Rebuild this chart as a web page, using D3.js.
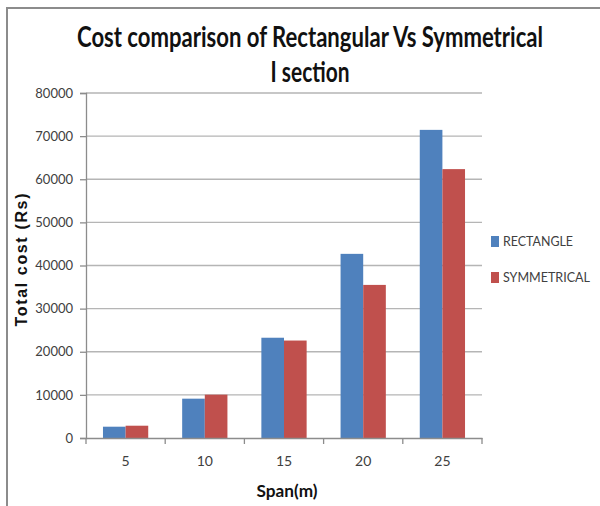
<!DOCTYPE html>
<html><head><meta charset="utf-8">
<script src="https://cdn.jsdelivr.net/npm/d3@7"></script>
<style>html,body{margin:0;padding:0;background:#fff;}svg{display:block;}</style>
</head><body>
<svg id="chart" width="600" height="506"></svg>
<script>
const categories = ["5", "10", "15", "20", "25"];
const seriesNames = ["RECTANGLE", "SYMMETRICAL"];
const rectangle = [2620, 9120, 23250, 42700, 71450];
const symmetrical = [2850, 10050, 22600, 35500, 62350];
const yTicks = [0, 10000, 20000, 30000, 40000, 50000, 60000, 70000, 80000];
const colors = ["#4F81BD", "#C0504D"];
const titleLines = ["Cost comparison of Rectangular Vs Symmetrical", "I section"];
const xTitle = "Span(m)";
const yTitle = "Total cost (Rs)";

const svg = d3.select("#chart");
const margin = {left: 86, right: 482, top: 93, bottom: 438};

// frame
svg.append("path").attr("d", "M7,506 L7,8 L600,8").attr("fill", "none")
  .attr("stroke", "#8c8c8c").attr("stroke-width", 2);

const x = d3.scaleBand().domain(categories).range([margin.left, margin.right]);
const sub = d3.scaleBand().domain(seriesNames).range([0, x.bandwidth()]).paddingInner(0).paddingOuter(0.75);
const y = d3.scaleLinear().domain([0, 80000]).range([margin.bottom, margin.top]);

// gridlines
svg.append("g").selectAll("line").data(yTicks.filter(d => d > 0)).join("line")
  .attr("x1", margin.left).attr("x2", margin.right)
  .attr("y1", d => y(d)).attr("y2", d => y(d))
  .attr("stroke", "#b5b5b5").attr("stroke-width", 1.3);

// bars
const series = [rectangle, symmetrical];
series.forEach((vals, si) => {
  svg.append("g").selectAll("rect").data(vals).join("rect")
    .attr("x", (d, i) => x(categories[i]) + sub(seriesNames[si]))
    .attr("width", sub.bandwidth())
    .attr("y", d => y(d))
    .attr("height", d => y(0) - y(d))
    .attr("fill", colors[si]);
});

// y axis
const yAxis = d3.axisLeft(y).tickValues(yTicks).tickSize(6).tickPadding(7).tickFormat(d3.format("d"));
const gy = svg.append("g").attr("transform", `translate(${margin.left},0)`).call(yAxis);
gy.select(".domain").attr("stroke", "#8c8c8c").attr("stroke-width", 1.3);
gy.selectAll(".tick line").attr("stroke", "#8c8c8c").attr("stroke-width", 1.3);
gy.selectAll(".tick text").attr("fill", "#404040").style("font-family", "Lato, 'Open Sans', sans-serif").style("font-size", "13px");

// x axis
const xAxis = d3.axisBottom(x).tickSize(0).tickPadding(18);
const gx = svg.append("g").attr("transform", `translate(0,${margin.bottom})`).call(xAxis);
gx.select(".domain").attr("stroke", "#8c8c8c").attr("stroke-width", 1.3);
gx.selectAll(".tick text").attr("fill", "#404040").style("font-family", "Lato, 'Open Sans', sans-serif").style("font-size", "14px");
// category boundary ticks
const bounds = categories.map(c => x(c)).concat([margin.right]);
gx.append("g").selectAll("line").data(bounds).join("line")
  .attr("x1", d => d).attr("x2", d => d).attr("y1", 0).attr("y2", 6)
  .attr("stroke", "#8c8c8c").attr("stroke-width", 1.3);

// titles
svg.append("text").attr("x", 310).attr("y", 47).attr("text-anchor", "middle")
  .style("font-family", "Lato, sans-serif").style("font-weight", "bold").style("font-size", "28px")
  .attr("fill", "#111").attr("textLength", 466).attr("lengthAdjust", "spacingAndGlyphs")
  .text(titleLines[0]);
svg.append("text").attr("x", 310).attr("y", 82).attr("text-anchor", "middle")
  .style("font-family", "Lato, sans-serif").style("font-weight", "bold").style("font-size", "28px")
  .attr("fill", "#111").attr("textLength", 79).attr("lengthAdjust", "spacingAndGlyphs")
  .text(titleLines[1]);

svg.append("text").attr("x", 287).attr("y", 497).attr("text-anchor", "middle")
  .style("font-family", "Lato, sans-serif").style("font-weight", "bold").style("font-size", "17px")
  .attr("fill", "#111").attr("textLength", 61).attr("lengthAdjust", "spacingAndGlyphs").text(xTitle);

svg.append("text").attr("transform", "translate(27,260) rotate(-90)").attr("text-anchor", "middle")
  .style("font-family", "'Liberation Sans', Arial, sans-serif").style("font-weight", "bold").style("font-size", "16px")
  .attr("fill", "#111").attr("textLength", 133).attr("lengthAdjust", "spacing").text(yTitle);

// legend
const legendY = [241, 277];
seriesNames.forEach((n, i) => {
  svg.append("rect").attr("x", 491).attr("y", legendY[i] - 5).attr("width", 8).attr("height", 11).attr("fill", colors[i]);
  svg.append("text").attr("x", 503).attr("y", legendY[i] + 5)
    .style("font-family", "Lato, sans-serif").style("font-size", "14px").attr("fill", "#404040")
    .attr("textLength", i === 0 ? 70 : 87).attr("lengthAdjust", "spacingAndGlyphs").text(n);
});
</script>
</body></html>
